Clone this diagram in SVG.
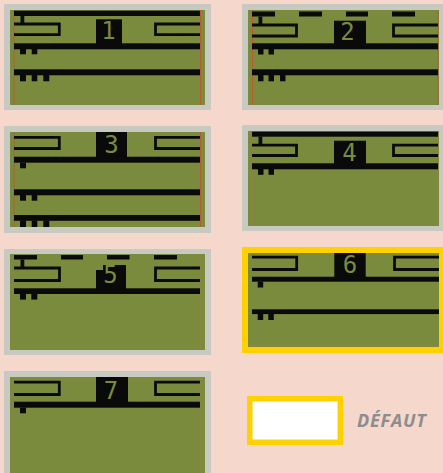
<svg xmlns="http://www.w3.org/2000/svg" width="443" height="473" viewBox="0 0 443 473">
<style>
.frame{fill:#c8c9c1}
.sel{fill:#ffd100}
.lcd{fill:#7b8b3e}
.k{fill:#0a0a0a}
.br{fill:none;stroke:#0a0a0a;stroke-width:2.8}
.edge{stroke:#c8502c;stroke-width:0.8}
.faint{stroke:#b07a45;stroke-width:0.8;opacity:0.4}
.dig{font-family:"DejaVu Sans Mono","Liberation Mono",monospace;font-size:24px;fill:#7b8b3e;text-anchor:middle}
.lbl{font-family:"Open Sans","Liberation Sans",sans-serif;font-size:18px;font-weight:bold;font-style:italic;fill:#8d8d8d;letter-spacing:0.8px}
</style>
<rect width="443" height="473" fill="#f5d8cb"/>

<g id="screen1">
<rect class="frame" x="4" y="4" width="207" height="106"/>
<rect class="lcd" x="10" y="10" width="195" height="95"/>
<line class="edge" x1="14" y1="10" x2="14" y2="105"/>
<line class="edge" x1="200.5" y1="10" x2="200.5" y2="105"/>
<rect class="k" x="14" y="10.7" width="186" height="5.3"/>
<rect class="k" x="20.5" y="16" width="3.8" height="7"/>
<path class="br" d="M14,24 H59.3 V34.7 H14"/>
<path class="br" d="M200,24 H155.5 V34.7 H200"/>
<rect class="k" x="96" y="19.3" width="26" height="26"/>
<text class="dig" x="108.5" y="39.3">1</text>
<rect class="k" x="14" y="43.3" width="186" height="6"/>
<rect class="k" x="20" y="49" width="6" height="5.3"/>
<rect class="k" x="31.7" y="49" width="5.6" height="5.3"/>
<rect class="k" x="14" y="69.3" width="186" height="6"/>
<rect class="k" x="20" y="75" width="6" height="6.3"/>
<rect class="k" x="31.7" y="75" width="5.6" height="6.3"/>
<rect class="k" x="43.3" y="75" width="6" height="6.3"/>
</g>

<g id="screen2">
<rect class="frame" x="242" y="4" width="207" height="106"/>
<rect class="lcd" x="248" y="10" width="191" height="95"/>
<line class="edge" x1="252.5" y1="10" x2="252.5" y2="105"/>
<line class="edge" x1="438" y1="10" x2="438" y2="105"/>
<rect class="k" x="252" y="11.5" width="23" height="5"/>
<rect class="k" x="299" y="11.5" width="23" height="5"/>
<rect class="k" x="346" y="11.5" width="22" height="5"/>
<rect class="k" x="392" y="11.5" width="23" height="5"/>
<rect class="k" x="258.5" y="16.5" width="3.8" height="7.5"/>
<path class="br" d="M252,25 H296.5 V36 H252"/>
<path class="br" d="M438,25 H393.5 V36 H438"/>
<rect class="k" x="334" y="20.7" width="32" height="24"/>
<text class="dig" x="347.5" y="40">2</text>
<rect class="k" x="252" y="43.3" width="186" height="6"/>
<rect class="k" x="258" y="49" width="5.5" height="5.5"/>
<rect class="k" x="268.5" y="49" width="5.5" height="5.5"/>
<rect class="k" x="252" y="69.3" width="186" height="6"/>
<rect class="k" x="258" y="75" width="5.5" height="6.3"/>
<rect class="k" x="268.5" y="75" width="5.5" height="6.3"/>
<rect class="k" x="280" y="75" width="5.5" height="6.3"/>
</g>

<g id="screen3">
<rect class="frame" x="4" y="126" width="207" height="107"/>
<rect class="lcd" x="10" y="132" width="195" height="95"/>
<line class="edge" x1="14" y1="132" x2="14" y2="227"/>
<line class="edge" x1="200.5" y1="132" x2="200.5" y2="227"/>
<path class="br" d="M14,137.3 H59.3 V148.5 H14"/>
<path class="br" d="M200,137.3 H155.5 V148.5 H200"/>
<rect class="k" x="96" y="132" width="31" height="26"/>
<text class="dig" x="111.5" y="153">3</text>
<rect class="k" x="14" y="156.7" width="186" height="6"/>
<rect class="k" x="20" y="162.5" width="6" height="5.8"/>
<rect class="k" x="14" y="189.3" width="186" height="6"/>
<rect class="k" x="20" y="195" width="6" height="5.7"/>
<rect class="k" x="31.7" y="195" width="5.6" height="5.7"/>
<rect class="k" x="14" y="215" width="186" height="5.8"/>
<rect class="k" x="20" y="220.5" width="6" height="6.5"/>
<rect class="k" x="31.7" y="220.5" width="5.6" height="6.5"/>
<rect class="k" x="43.3" y="220.5" width="6" height="6.5"/>
</g>

<g id="screen4">
<rect class="frame" x="242" y="125" width="207" height="106"/>
<rect class="lcd" x="248" y="131" width="191" height="95"/>
<line class="faint" x1="252.5" y1="131" x2="252.5" y2="226"/>
<line class="faint" x1="438" y1="131" x2="438" y2="226"/>
<rect class="k" x="252" y="131.7" width="186" height="5"/>
<rect class="k" x="258.5" y="136.5" width="3.8" height="7.5"/>
<path class="br" d="M252,145.2 H296.5 V155.5 H252"/>
<path class="br" d="M438,145.2 H393.5 V155.5 H438"/>
<rect class="k" x="334" y="140.7" width="32" height="24"/>
<text class="dig" x="349.5" y="160.7">4</text>
<rect class="k" x="252" y="163.3" width="186" height="6"/>
<rect class="k" x="258" y="169" width="5.5" height="5.8"/>
<rect class="k" x="268.5" y="169" width="5.5" height="5.8"/>
</g>

<g id="screen5">
<rect class="frame" x="4" y="249" width="207" height="106"/>
<rect class="lcd" x="10" y="254" width="195" height="96"/>
<line class="faint" x1="14" y1="254" x2="14" y2="350"/>
<line class="faint" x1="200.5" y1="254" x2="200.5" y2="350"/>
<rect class="k" x="14" y="255" width="23" height="4.5"/>
<rect class="k" x="61" y="255" width="22" height="4.5"/>
<rect class="k" x="107" y="255" width="22.5" height="4.5"/>
<rect class="k" x="154" y="255" width="23" height="4.5"/>
<rect class="k" x="20.5" y="259.5" width="3.8" height="7.5"/>
<path class="br" d="M14,268 H59.5 V280.5 H14"/>
<path class="br" d="M200,268 H155.5 V280.5 H200"/>
<path class="k" d="M96,270 H103 V265 H126 V290 H96 Z"/>
<text class="dig" x="110.5" y="283">5</text>
<rect class="k" x="14" y="288.3" width="186" height="5.7"/>
<rect class="k" x="20" y="293.8" width="6" height="5.8"/>
<rect class="k" x="31.3" y="293.8" width="6" height="5.8"/>
</g>

<g id="screen6">
<rect class="sel" x="242" y="247" width="207" height="106"/>
<rect class="lcd" x="248" y="253" width="191" height="94"/>
<line class="faint" x1="248" y1="346.5" x2="439" y2="346.5"/>
<path class="br" d="M252,257.2 H296.7 V269.5 H252"/>
<path class="br" d="M439,257.2 H394.5 V269.5 H439"/>
<rect class="k" x="334.3" y="253" width="31.4" height="25"/>
<text class="dig" x="350" y="273">6</text>
<rect class="k" x="252" y="276.7" width="187" height="5"/>
<rect class="k" x="257.7" y="281.5" width="5.5" height="6"/>
<rect class="k" x="252" y="309.3" width="187" height="4.8"/>
<rect class="k" x="257.7" y="314" width="5.5" height="6"/>
<rect class="k" x="268.3" y="314" width="5.5" height="6"/>
</g>

<g id="screen7">
<rect class="frame" x="4" y="371" width="207" height="110"/>
<rect class="lcd" x="10" y="377" width="195" height="100"/>
<line class="faint" x1="14" y1="377" x2="14" y2="473"/>
<line class="faint" x1="200.5" y1="377" x2="200.5" y2="473"/>
<path class="br" d="M14,382.2 H59.3 V394.5 H14"/>
<path class="br" d="M200,382.2 H155.5 V394.5 H200"/>
<rect class="k" x="96" y="377" width="32" height="26"/>
<text class="dig" x="111" y="398.5">7</text>
<rect class="k" x="14" y="401.7" width="186" height="6"/>
<rect class="k" x="20" y="407.5" width="6" height="5.8"/>
</g>

<g id="legend-default">
<rect x="249.75" y="398.75" width="90.5" height="43.5" fill="#ffffff" stroke="#ffd100" stroke-width="5.5"/>
<text class="lbl" x="357" y="427">DÉFAUT</text>
</g>
</svg>
